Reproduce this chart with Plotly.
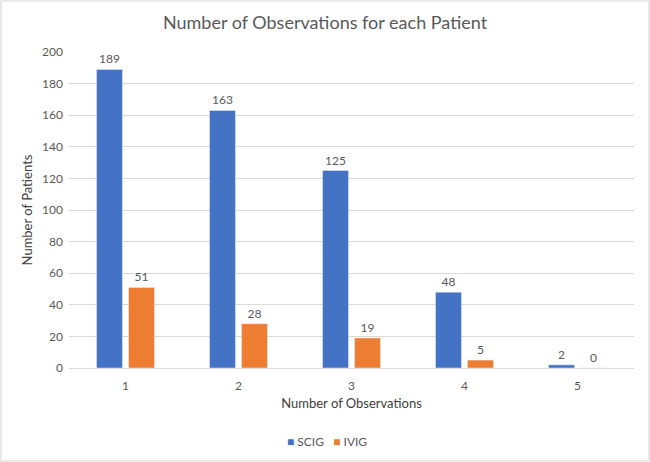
import plotly.graph_objects as go

categories = ["1", "2", "3", "4", "5"]
scig = [189, 163, 125, 48, 2]
ivig = [51, 28, 19, 5, 0]
series_names = ["SCIG", "IVIG"]
colors = ["#4472C4", "#ED7D31"]
y_ticks = [0, 20, 40, 60, 80, 100, 120, 140, 160, 180, 200]

font_family = "Lato, 'Open Sans', sans-serif"
grey = "#595959"

fig = go.Figure()
for name, vals, col in zip(series_names, [scig, ivig], colors):
    fig.add_trace(go.Bar(
        x=categories, y=vals, name=name, marker_color=col,
        text=[str(v) for v in vals], textposition="outside",
        textfont=dict(size=12, color=grey, family=font_family),
        cliponaxis=False, showlegend=False,
    ))

fig.update_layout(
    width=650, height=462,
    paper_bgcolor="white", plot_bgcolor="white",
    margin=dict(l=69, r=16, t=52, b=94),
    barmode="group", bargap=0.434, bargroupgap=0.19,
    title=dict(text="Number of Observations for each Patient", x=0.5, xanchor="center",
               y=0.950, yanchor="middle",
               font=dict(size=18, color=grey, family=font_family)),
    font=dict(family=font_family, color=grey, size=12),
    xaxis=dict(title=dict(text="Number of Observations", font=dict(size=13, color="#404040"), standoff=6),
               automargin=False, showline=True, linecolor="#D9D9D9", ticks="",
               ticklabelstandoff=7, tickfont=dict(size=12, color=grey)),
    yaxis=dict(title=dict(text="Number of Patients", font=dict(size=13, color="#404040"), standoff=6),
               automargin=False, range=[0, 200], tickvals=y_ticks, showgrid=True, gridcolor="#D9D9D9",
               zeroline=False, ticklabelstandoff=5, tickfont=dict(size=12, color=grey)),
    showlegend=False,
)

legend_text = "   ".join(
    f"<span style='color:{c}'>■</span> {n}" for n, c in zip(series_names, colors)
)
fig.add_annotation(xref="paper", yref="paper", x=0.4566, y=-0.234, xanchor="center", yanchor="middle",
                   text=legend_text, showarrow=False, font=dict(size=12, color=grey, family=font_family))

fig.add_shape(type="rect", xref="paper", yref="paper", x0=-0.1204, x1=1.0265, y0=-0.2943, y1=1.1614,
              line=dict(color="#D9D9D9", width=1.2))

fig.write_html("out.html", config={"displayModeBar": False},
               post_script="document.body.style.margin='0';")
